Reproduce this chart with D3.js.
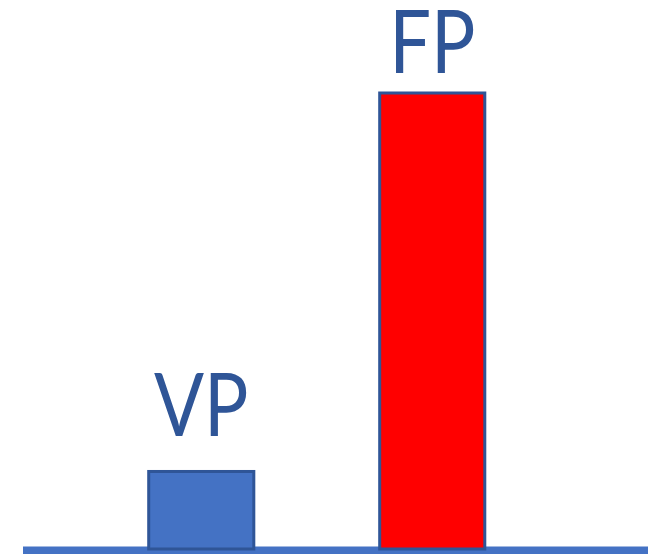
<!DOCTYPE html>
<html>
<head>
<meta charset="utf-8">
<script src="https://cdn.jsdelivr.net/npm/d3@7"></script>
<style>
  html, body { margin: 0; padding: 0; background: #ffffff; }
  svg { display: block; }
</style>
</head>
<body>
<svg id="chart" width="654" height="554"></svg>
<script>
// Two bars: VP (small) and FP (tall)
const categories = ["VP", "FP"];
const values = [17, 100];
const fills = ["#4472C4", "#FF0000"];

const W = 654, H = 554;
const svg = d3.select("#chart");

const x = d3.scaleBand()
  .domain(categories)
  .range([86, 547.5])
  .paddingInner(0.532)
  .paddingOuter(0.265);

const y = d3.scaleLinear()
  .domain([0, 100])
  .range([549, 93]);

// baseline
svg.append("rect")
  .attr("x", 23)
  .attr("y", 546.5)
  .attr("width", 625)
  .attr("height", 10)
  .attr("fill", "#4472C4");

// bars
svg.selectAll("rect.bar")
  .data(categories)
  .join("rect")
  .attr("class", "bar")
  .attr("x", d => x(d) + 1.5)
  .attr("y", (d, i) => y(values[i]))
  .attr("width", x.bandwidth() - 3)
  .attr("height", (d, i) => y(0) - y(values[i]))
  .attr("fill", (d, i) => fills[i])
  .attr("stroke", "#2F5597")
  .attr("stroke-width", 3);

// labels above each bar, slightly condensed
const labelGap = { VP: 35, FP: 20 };
svg.selectAll("text.label")
  .data(categories)
  .join("text")
  .attr("class", "label")
  .attr("transform", (d, i) =>
    `translate(${x(d) + x.bandwidth() / 2},${y(values[i]) - labelGap[d]}) scale(0.85,1)`)
  .attr("text-anchor", "middle")
  .attr("font-family", "Lato, 'Open Sans', sans-serif")
  .attr("font-size", 87)
  .attr("fill", "#2F5597")
  .text(d => d);
</script>
</body>
</html>
